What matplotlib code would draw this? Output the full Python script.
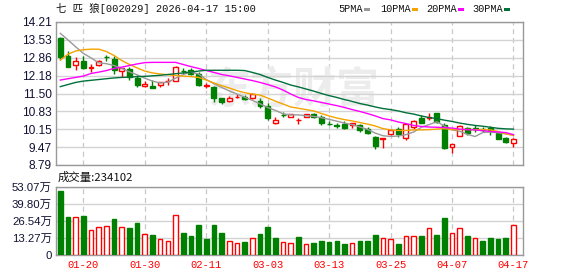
import matplotlib
matplotlib.use("Agg")
import matplotlib.pyplot as plt
from matplotlib.patches import Rectangle

# ---------------- data ----------------
dates = ["01-15", "01-16", "01-19", "01-20", "01-21", "01-22", "01-23", "01-26", "01-27", "01-28",
         "01-29", "01-30", "02-02", "02-03", "02-04", "02-05", "02-06", "02-09", "02-10", "02-11",
         "02-12", "02-13", "02-24", "02-25", "02-26", "02-27", "03-02", "03-03", "03-04", "03-05",
         "03-06", "03-09", "03-10", "03-11", "03-12", "03-13", "03-16", "03-17", "03-18", "03-19",
         "03-20", "03-23", "03-24", "03-25", "03-26", "03-27", "03-30", "03-31", "04-01", "04-02",
         "04-03", "04-07", "04-08", "04-09", "04-10", "04-13", "04-14", "04-15", "04-16", "04-17"]

opens = [13.60, 12.91, 12.57, 12.74, 12.48, 12.59, 12.90, 12.81, 12.36, 12.44,
         12.09, 11.77, 11.80, 11.83, 11.96, 11.99, 12.36, 12.40, 12.23, 11.79,
         11.76, 11.34, 11.23, 11.36, 11.38, 11.32, 11.21, 11.04, 10.39, 10.69,
         10.60, 10.49, 10.62, 10.71, 10.62, 10.34, 10.29, 10.34, 10.30, 10.30,
         10.14, 9.84, 9.78, 9.96, 10.14, 9.80, 10.24, 10.58, 10.58, 10.75,
         10.30, 9.48, 9.90, 10.18, 10.19, 10.15, 10.20, 9.99, 9.82, 9.61]
highs = [13.63, 13.10, 12.87, 12.93, 12.61, 12.78, 12.97, 12.91, 12.45, 12.49,
         12.21, 11.96, 12.02, 11.93, 12.09, 12.54, 12.45, 12.45, 12.33, 11.89,
         11.78, 11.34, 11.40, 11.47, 11.44, 11.52, 11.32, 11.13, 10.61, 10.81,
         10.73, 10.56, 10.73, 10.76, 10.68, 10.45, 10.38, 10.44, 10.39, 10.36,
         10.24, 9.89, 9.80, 10.13, 10.23, 10.37, 10.51, 10.68, 10.75, 10.75,
         10.37, 9.57, 10.31, 10.22, 10.30, 10.24, 10.27, 10.03, 9.86, 9.82]
lows = [12.78, 12.52, 12.40, 12.43, 12.33, 12.53, 12.72, 12.24, 12.11, 12.02,
        11.76, 11.75, 11.70, 11.75, 11.83, 11.96, 12.25, 12.20, 11.78, 11.70,
        11.19, 11.09, 11.19, 11.32, 11.25, 11.28, 10.96, 10.50, 10.34, 10.62,
        10.60, 10.33, 10.61, 10.57, 10.30, 10.30, 10.20, 10.17, 10.18, 10.04,
        9.96, 9.38, 9.42, 9.94, 9.86, 9.74, 10.17, 10.37, 10.50, 10.40,
        9.40, 9.23, 9.90, 9.93, 10.05, 10.03, 9.92, 9.79, 9.63, 9.48]
closes = [12.87, 12.52, 12.74, 12.48, 12.50, 12.74, 12.88, 12.40, 12.45, 12.11,
          11.81, 11.87, 11.70, 11.93, 11.99, 12.52, 12.34, 12.25, 11.82, 11.81,
          11.32, 11.19, 11.34, 11.38, 11.29, 11.47, 11.04, 10.56, 10.48, 10.67,
          10.71, 10.51, 10.72, 10.60, 10.37, 10.33, 10.28, 10.20, 10.39, 10.11,
          9.99, 9.51, 9.80, 10.11, 9.96, 10.33, 10.46, 10.37, 10.60, 10.43,
          9.45, 9.57, 10.28, 9.99, 10.17, 10.13, 10.08, 9.79, 9.67, 9.76]

ma5 = [13.78, 13.53, 13.27, 13.02, 12.85, 12.66, 12.63, 12.56, 12.45, 12.32,
       12.21, 12.08, 11.97, 11.90, 11.93, 12.08, 12.22, 12.31, 12.24, 12.03,
       11.87, 11.73, 11.60, 11.48, 11.36, 11.24, 11.11, 10.97, 10.86, 10.73,
       10.69, 10.69, 10.66, 10.63, 10.58, 10.52, 10.45, 10.38, 10.32, 10.23,
       10.14, 10.00, 9.90, 9.87, 9.89, 9.94, 10.04, 10.22, 10.32, 10.43,
       10.27, 10.12, 10.07, 9.95, 9.87, 10.02, 10.04, 10.01, 9.97, 9.93]
ma10 = [12.77, 12.99, 13.11, 13.16, 13.18, 13.18, 13.09, 12.94, 12.75, 12.60,
        12.47, 12.35, 12.28, 12.24, 12.21, 12.18, 12.16, 12.14, 12.11, 12.01,
        11.90, 11.80, 11.71, 11.61, 11.53, 11.48, 11.44, 11.33, 11.21, 11.10,
        10.99, 10.94, 10.89, 10.84, 10.74, 10.65, 10.57, 10.51, 10.46, 10.40,
        10.34, 10.27, 10.17, 10.12, 10.10, 10.10, 10.12, 10.12, 10.13, 10.15,
        10.17, 10.13, 10.13, 10.14, 10.13, 10.13, 10.12, 10.06, 9.97, 9.91]
ma20 = [12.01, 12.06, 12.11, 12.16, 12.26, 12.31, 12.37, 12.45, 12.50, 12.56,
        12.62, 12.67, 12.68, 12.68, 12.68, 12.68, 12.60, 12.52, 12.45, 12.37,
        12.30, 12.22, 12.17, 12.11, 12.05, 11.99, 11.92, 11.84, 11.75, 11.63,
        11.48, 11.35, 11.27, 11.22, 11.16, 11.10, 11.04, 10.97, 10.89, 10.82,
        10.74, 10.65, 10.55, 10.50, 10.42, 10.36, 10.29, 10.25, 10.23, 10.22,
        10.21, 10.19, 10.15, 10.13, 10.12, 10.09, 10.06, 10.04, 10.02, 9.94]
ma30 = [11.76, 11.84, 11.92, 11.97, 12.00, 12.03, 12.06, 12.09, 12.11, 12.12,
        12.14, 12.15, 12.17, 12.19, 12.22, 12.25, 12.28, 12.31, 12.35, 12.38,
        12.38, 12.38, 12.38, 12.38, 12.37, 12.30, 12.22, 12.11, 12.01, 11.92,
        11.82, 11.75, 11.67, 11.59, 11.50, 11.42, 11.35, 11.27, 11.20, 11.12,
        11.06, 10.99, 10.93, 10.89, 10.84, 10.77, 10.72, 10.65, 10.59, 10.55,
        10.49, 10.44, 10.38, 10.33, 10.29, 10.26, 10.22, 10.18, 10.16, 10.15]

# volume in 万 shares
volumes = [50.0, 29.4, 29.4, 30.2, 19.0, 21.6, 22.4, 27.8, 21.6, 21.1,
           24.7, 16.1, 15.4, 12.0, 10.7, 31.0, 16.9, 14.8, 23.2, 12.2,
           23.2, 16.9, 10.7, 9.1, 9.9, 13.0, 16.1, 21.6, 13.0, 9.9,
           9.1, 13.8, 8.3, 9.1, 10.6, 9.9, 10.6, 8.3, 8.8, 10.6,
           10.6, 15.3, 12.7, 11.9, 8.3, 14.7, 14.3, 14.5, 20.5, 15.0,
           28.5, 16.6, 20.5, 14.3, 12.7, 10.6, 13.0, 12.2, 13.0, 23.41]
vol_up = [0, 0, 1, 0, 1, 1, 1, 0, 1, 0,
          0, 1, 0, 1, 1, 1, 0, 0, 0, 0,
          0, 0, 1, 1, 0, 1, 0, 0, 0, 1,
          1, 0, 1, 0, 0, 0, 0, 0, 1, 0,
          0, 0, 1, 1, 0, 1, 1, 0, 1, 0,
          0, 1, 1, 0, 1, 0, 0, 0, 0, 1]

price_ticks = [8.79, 9.47, 10.15, 10.83, 11.50, 12.18, 12.86, 13.53, 14.21]
vol_ticks = [0, 13.27, 26.54, 39.80, 53.07]
vol_tick_labels = ["0", "13.27万", "26.54万", "39.80万", "53.07万"]
date_ticks = ["01-20", "01-30", "02-11", "03-03", "03-13", "03-25", "04-07", "04-17"]

title = "七 匹 狼[002029] 2026-04-17 15:00"
vol_title = "成交量:234102"
ma_names = ["5PMA", "10PMA", "20PMA", "30PMA"]

# ---------------- style ----------------
RED = "#ff0000"
GREEN = "#008000"
MA_COLORS = ["#999999", "#f5a300", "#ff00ff", "#00703a"]
GRID = "#d3d3d3"
SPINE = "#999999"

W, H = 578, 276
fig = plt.figure(figsize=(W / 100, H / 100), dpi=100)
fig.patch.set_facecolor("white")

def fx(px):
    return px / W

def fy(py):
    return 1 - py / H

left, right = 56, 522.7
ax = fig.add_axes([fx(left), fy(165), fx(right) - fx(left), fy(22) - fy(165)])
axv = fig.add_axes([fx(left), fy(254.7), fx(right) - fx(left), fy(186.7) - fy(254.7)])

n = len(dates)
xs = list(range(n))
xlim = (-0.56, n - 1 + 1.2)
tick_pos = [dates.index(d) for d in date_ticks]

for a in (ax, axv):
    a.set_xlim(*xlim)
    for s in a.spines.values():
        s.set_color(SPINE)
        s.set_linewidth(1.0)
    a.tick_params(length=0)
    a.set_axisbelow(True)
    for p in tick_pos:
        a.axvline(p, color="#c8c8c8", lw=0.9, ls=(0, (4, 3)), zorder=0.3)

# price axes
ax.set_ylim(price_ticks[0], price_ticks[-1])
ax.set_yticks(price_ticks)
ax.set_yticklabels([f"{t:.2f}" for t in price_ticks], family="Liberation Sans",
                   fontsize=8.6, color="#111133")
ax.yaxis.grid(True, color=GRID, lw=1.0, zorder=0.2)
ax.set_xticks([])
ax.tick_params(axis="y", pad=3)

ax.text(0.508, 0.52, "东方财富", transform=ax.transAxes, fontsize=31,
        family="Noto Sans CJK SC", fontweight="bold", color="#ececec",
        ha="center", va="center", zorder=0.4)

bw = 0.64
for i in xs:
    o, h, l, c = opens[i], highs[i], lows[i], closes[i]
    up = c >= o
    col = RED if up else GREEN
    ax.vlines(i, l, h, color=col, lw=1.0, zorder=3)
    body_lo = min(o, c)
    body_h = abs(c - o)
    ax.add_patch(Rectangle((i - bw / 2, body_lo), bw, body_h,
                           facecolor="white" if up else GREEN,
                           edgecolor=col, lw=1.0, zorder=4))

for vals, colr in zip([ma5, ma10, ma20, ma30], MA_COLORS):
    ax.plot(xs, vals, color=colr, lw=1.0, zorder=5)

# volume axes
axv.set_ylim(vol_ticks[0], vol_ticks[-1])
axv.set_yticks(vol_ticks)
axv.set_yticklabels(vol_tick_labels, family=["Liberation Sans", "Noto Sans CJK SC"],
                    fontsize=8.2, color="#111133")
axv.yaxis.grid(True, color=GRID, lw=1.0, zorder=0.2)
axv.tick_params(axis="y", pad=3)
axv.set_xticks(tick_pos)
axv.set_xticklabels(date_ticks, family="Liberation Mono", fontsize=7.6, color=RED)
axv.tick_params(axis="x", pad=4)
vw = 0.6
for i in xs:
    up = vol_up[i] == 1
    axv.add_patch(Rectangle((i - vw / 2, 0), vw, volumes[i],
                            facecolor="white" if up else GREEN,
                            edgecolor=RED if up else GREEN, lw=1.0, zorder=3))

# titles
fig.text(fx(56), fy(9), title, family=["Liberation Mono", "Noto Sans CJK SC"],
         fontsize=7.5, color="#111111", ha="left", va="center")
fig.text(fx(58), fy(177), vol_title, family=["Noto Sans CJK SC"],
         fontsize=8.2, color="#111111", ha="left", va="center")

# legend
leg_x = [338, 380, 426, 472]
for name, colr, x0 in zip(ma_names, MA_COLORS, leg_x):
    fig.text(fx(x0), fy(9), name, family="Liberation Mono", fontsize=7.4,
             color="#111111", ha="left", va="center")
    w = len(name) * 6.05
    fig.patches.append(Rectangle((fx(x0 + w + 2), fy(11)), fx(6), fy(8) - fy(11),
                                 transform=fig.transFigure, facecolor=colr,
                                 edgecolor="none", figure=fig))

fig.savefig("out.png", dpi=100, facecolor="white")
